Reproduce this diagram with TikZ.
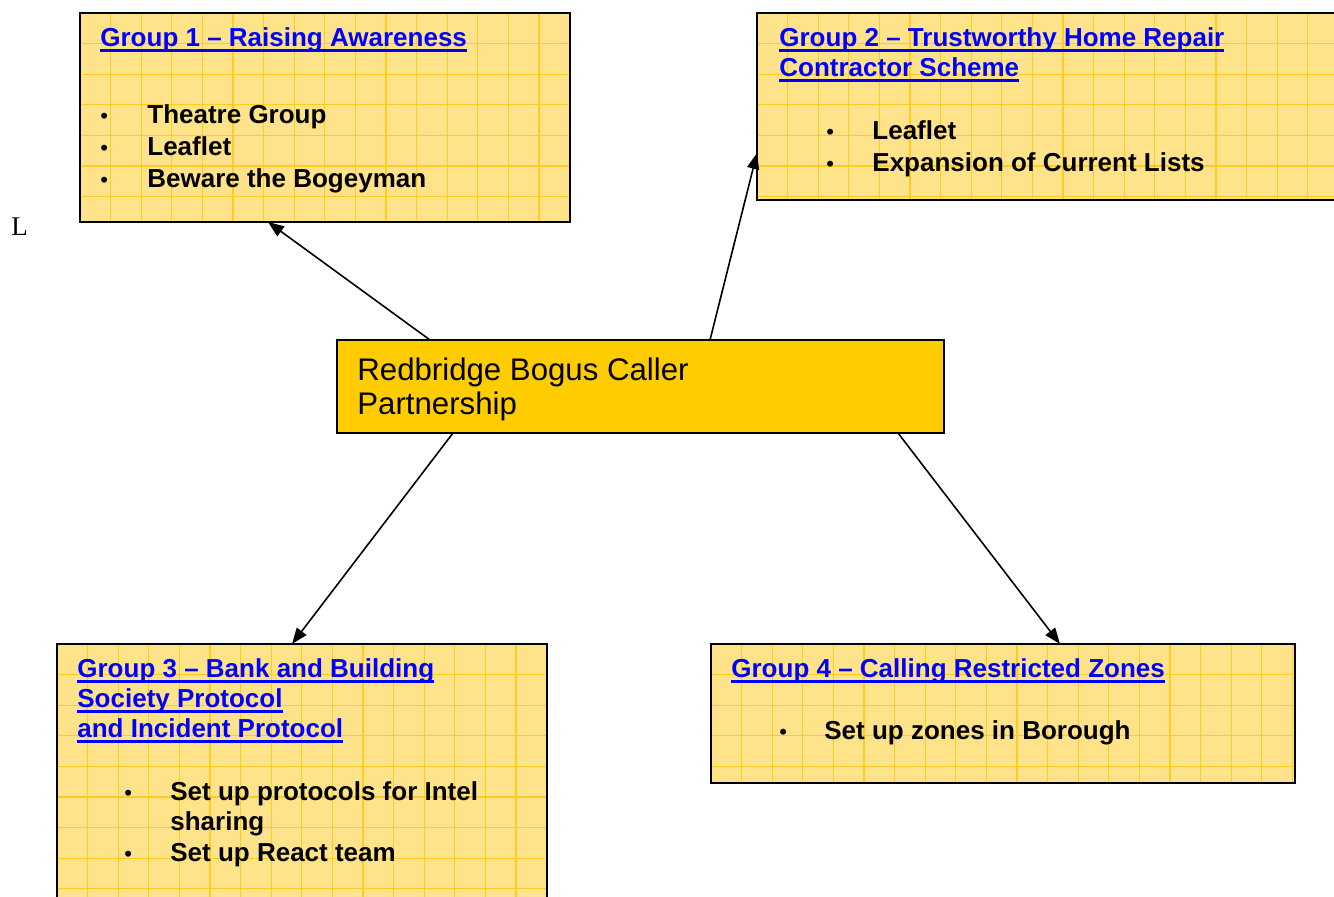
\documentclass[tikz,border=0pt]{standalone}
\usepackage{fontspec}
\setmainfont{Liberation Sans}
\newfontfamily\serifL{Liberation Serif}
\usetikzlibrary{arrows.meta,calc}

\definecolor{boxyellow}{HTML}{FFE38A}
\definecolor{gridgold}{HTML}{FFCC22}
\definecolor{centregold}{HTML}{FFCC00}
\definecolor{linkblue}{HTML}{0000FF}

\newcommand{\bul}{{\mdseries\fontsize{11}{11}\selectfont\textbullet}}
\newcommand{\linkline}[1]{\setbox0\hbox{#1}\rlap{\rule[-2.3pt]{\wd0}{1.1pt}}\box0}

\tikzset{
  groupbox/.style={draw=black, line width=1pt, fill=boxyellow, anchor=north west,
    inner sep=0pt, outer sep=0pt,
    path picture={
      \foreach \k in {1,...,20}{
        \draw[gridgold, line width=0.6pt] ([xshift=\k*15.3pt]path picture bounding box.north west) -- ([xshift=\k*15.3pt]path picture bounding box.south west);
        \draw[gridgold, line width=0.6pt] ([yshift=-\k*15.3pt]path picture bounding box.north west) -- ([yshift=-\k*15.3pt]path picture bounding box.north east);
      }}},
  centrebox/.style={draw=black, line width=1pt, fill=centregold, anchor=north west,
    inner sep=0pt, outer sep=0pt},
  grouptitle/.style={anchor=base west, inner sep=0pt, align=left, text=linkblue,
    font=\fontsize{13}{15}\selectfont\bfseries},
  grouplist/.style={anchor=base west, inner sep=0pt,
    font=\fontsize{13}{16}\selectfont\bfseries},
  conn/.style={-{Triangle[length=8pt,width=6pt]}, line width=0.8pt}
}

\begin{document}
\begin{tikzpicture}[x=0.5pt,y=-0.5pt]
	\useasboundingbox (0,0) rectangle (1334,897);

	% The four group boxes and the partnership box
	\node[groupbox, minimum width=245pt, minimum height=104.5pt] (grp1) at (80,13) {};
	\node[groupbox, minimum width=294pt, minimum height=93.5pt] (grp2) at (757,13) {};
	\node[groupbox, minimum width=245pt, minimum height=133pt] (grp3) at (57,644) {};
	\node[groupbox, minimum width=292pt, minimum height=69.5pt] (grp4) at (711,644) {};
	\node[centrebox, minimum width=303.5pt, minimum height=46.5pt] (partner) at (337,340) {};

	% Text of the partnership box (base = last line)
	\node[anchor=base west, inner sep=0pt, align=left, font=\fontsize{15.6}{17}\selectfont] (partnertext) at (357,415)
		{Redbridge Bogus Caller\\Partnership};

	% Group 1
	\node[grouptitle] (grp1title) at (100,47) {\linkline{Group 1 -- Raising Awareness}};
	\node[grouplist] (grp1list) at (100,124) {\begin{tabular}[t]{@{}p{23.5pt}@{}l@{}}
		\bul & Theatre Group\\
		\bul & Leaflet\\
		\bul & Beware the Bogeyman
	\end{tabular}};

	% Group 2
	\node[grouptitle] (grp2title) at (779,77) {\linkline{Group 2 -- Trustworthy Home Repair}\\\linkline{Contractor Scheme}};
	\node[grouplist] (grp2list) at (826,140) {\begin{tabular}[t]{@{}p{23pt}@{}l@{}}
		\bul & Leaflet\\
		\bul & Expansion of Current Lists
	\end{tabular}};

	% Group 3
	\node[grouptitle] (grp3title) at (77,738) {\linkline{Group 3 -- Bank and Building}\\\linkline{Society Protocol}\\\linkline{and Incident Protocol}};
	\node[grouplist, font=\fontsize{13}{15.3}\selectfont\bfseries] (grp3list) at (124,800) {\begin{tabular}[t]{@{}p{23pt}@{}l@{}}
		\bul & Set up protocols for Intel\\
		     & sharing\\
		\bul & Set up React team
	\end{tabular}};

	% Group 4
	\node[grouptitle] (grp4title) at (731,678) {\linkline{Group 4 -- Calling Restricted Zones}};
	\node[grouplist] (grp4list) at (779,740) {\begin{tabular}[t]{@{}p{22.5pt}@{}l@{}}
		\bul & Set up zones in Borough
	\end{tabular}};

	% Stray letter at the left margin
	\node[anchor=base west, inner sep=0pt, font=\serifL\fontsize{13.5}{15}\selectfont] (stray) at (11,236) {L};

	% Arrows from the partnership to each group
	\draw[conn] ($(partner.north west)+(93,0)$) -- ($(grp1.south west)+(188,0)$);
	\draw[conn] ($(partner.north west)+(373,0)$) -- ($(grp2.north west)+(0,140)$);
	\draw[conn] ($(partner.south west)+(116,0)$) -- ($(grp3.north west)+(235,0)$);
	\draw[conn] ($(partner.south west)+(561,0)$) -- ($(grp4.north west)+(349,0)$);
\end{tikzpicture}
\end{document}
